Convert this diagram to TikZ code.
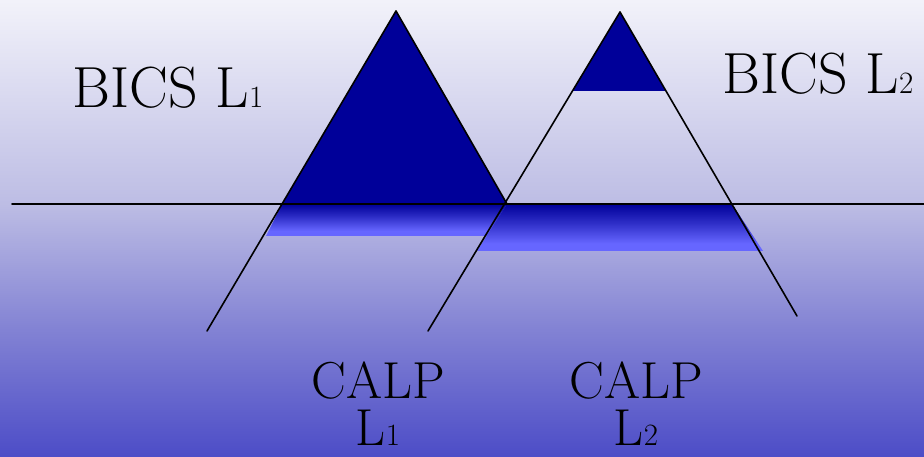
\documentclass[tikz,border=0pt]{standalone}
\pgfdeclareverticalshading{bgshade}{100bp}{rgb(0bp)=(0.30,0.30,0.78); rgb(25bp)=(0.30,0.30,0.78); rgb(38.9bp)=(0.51,0.51,0.83); rgb(52.7bp)=(0.74,0.74,0.895); rgb(75bp)=(0.95,0.95,0.98); rgb(100bp)=(0.95,0.95,0.98)}
\pgfdeclareverticalshading{bandshade}{100bp}{rgb(0bp)=(0.4,0.4,1); rgb(33bp)=(0.4,0.4,1); rgb(55bp)=(0.18,0.18,0.78); rgb(75bp)=(0,0,0.6); rgb(100bp)=(0,0,0.6)}
\definecolor{navy}{RGB}{0,0,153}
\newcommand\dg[1]{{\fontsize{31}{31}\selectfont #1}}
\tikzset{
  lab/.style={font=\fontsize{52}{47}\selectfont, inner sep=0pt, align=center, anchor=south},
  bigl/.style={font=\fontsize{58}{62}\selectfont, inner sep=0pt, anchor=base},
  edge/.style={draw=black, line width=1.6pt, line cap=round},
  band/.style={shading=bandshade}
}
\begin{document}
\begin{tikzpicture}[x=1pt,y=-1pt]
\useasboundingbox (0,0) rectangle (924,457);
\shade[shading=bgshade] (0,0) rectangle (924,457);
% key points
\coordinate (apA) at (396,11);
\coordinate (botA) at (207,331);
\coordinate (wlA) at (282,204);
\coordinate (meet) at (507,204);
\coordinate (apB) at (620,12);
\coordinate (botBl) at (428,331);
\coordinate (botBr) at (797,316);
\coordinate (capL) at (572.5,91);
\coordinate (capR) at (666,91);
\coordinate (wlB) at (732,204);
\coordinate (hl) at (12,204);
\coordinate (hr) at (924,204);
% bands below the waterline
\path[band] (wlA) -- (meet) -- (487,236) -- (266,236) -- cycle;
\path[band] (meet) -- (wlB) -- (763,251) -- (477,251) -- cycle;
% filled tips
\fill[navy] (apA) -- (wlA) -- (meet) -- cycle;
\fill[navy] (apB) -- (capL) -- (capR) -- cycle;
% lines
\draw[edge] (hl) -- (hr);
\draw[edge] (apA) -- (botA);
\draw[edge] (apA) -- (meet);
\draw[edge] (apB) -- (botBl);
\draw[edge] (apB) -- (botBr);
% labels
\node[bigl] (bics1) at (168,108) {BICS L\dg{1}};
\node[bigl] (bics2) at (818,94) {BICS L\dg{2}};
\node[lab] (calp1) at (378,446) {CALP\\L\dg{1}};
\node[lab] (calp2) at (636,446) {CALP\\L\dg{2}};
\end{tikzpicture}
\end{document}
